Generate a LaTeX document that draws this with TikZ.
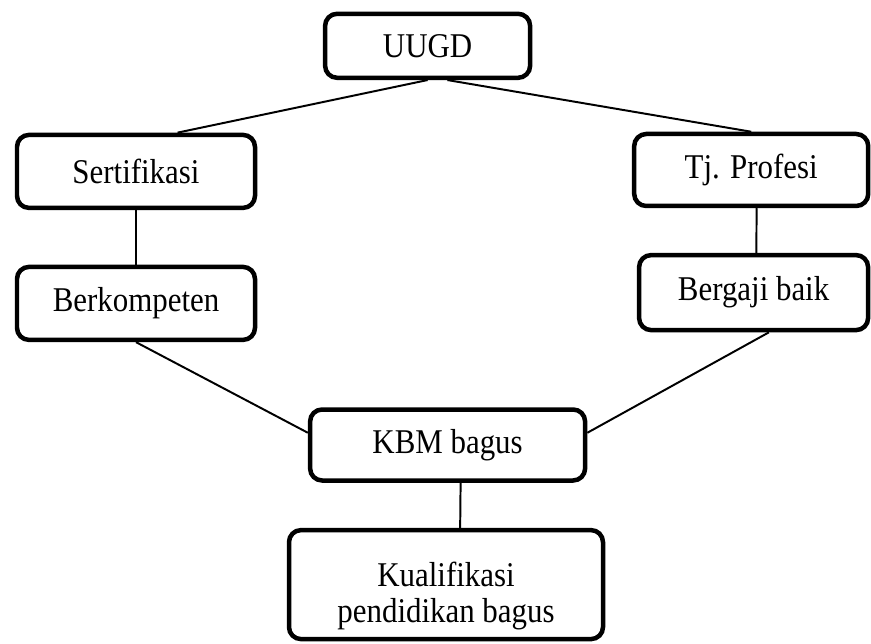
\documentclass[tikz,border=0pt]{standalone}
\usepackage{fontspec}
\setmainfont[FakeStretch=0.89]{Liberation Serif}
\usepackage{tikz}

\begin{document}
\begin{tikzpicture}[
        scale=1,
        box/.style={rectangle, draw=black, fill=white, line width=3.2pt,
          rounded corners=0.3cm, align=center, inner sep=1mm,
          font=\fontsize{24.7}{25.6}\selectfont},
        link/.style={draw=black, line width=1.4pt}]

      \useasboundingbox (0,0) rectangle (21.775,16.075);

      \node[box, minimum width=5.125cm, minimum height=1.6cm] (uugd) at (10.69,14.93){UUGD};

      \node[box, minimum width=5.95cm, minimum height=1.825cm] (sert) at (3.4,11.79){Sertifikasi};
      \node[box, minimum width=5.85cm, minimum height=1.8cm] (tj) at (18.78,11.825){Tj. Profesi};

      \node[box, minimum width=5.95cm, minimum height=1.825cm] (berk) at (3.4,8.49){Berkompeten};
      \node[box, minimum width=5.725cm, minimum height=1.875cm] (gaji) at (18.84,8.76){Bergaji baik};

      \node[box, minimum width=6.875cm, minimum height=1.775cm] (kbm) at (11.19,4.95){KBM bagus};

      \node[box, minimum width=7.85cm, minimum height=2.725cm] (kual) at (11.15,1.46){\rule{0pt}{1.2cm}Kualifikasi\\pendidikan bagus};

      \foreach \b/\t in {uugd.south/sert.43, uugd.-60/tj.north}
        \draw[link] (\b) -- (\t);
      \foreach \b/\t in {sert.south/berk.north, tj.-82/gaji.86}
        \draw[link] (\b) -- (\t);
      \foreach \b/\t in {berk.south/kbm.175, gaji.-69/kbm.5, kbm.-71/kual.76}
        \draw[link] (\b) -- (\t);

    \end{tikzpicture}
\end{document}
